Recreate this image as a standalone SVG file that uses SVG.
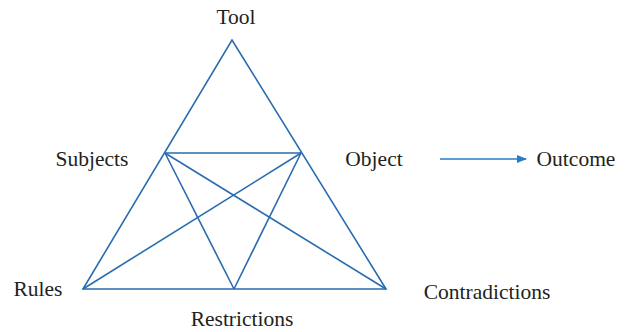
<svg xmlns="http://www.w3.org/2000/svg" width="627" height="332" viewBox="0 0 627 332">
<style>
text{font-family:"Liberation Serif","Times New Roman",serif;font-size:21.5px;fill:#231f20}
.e{stroke:#2a6bb0;stroke-width:1.6;fill:none;stroke-linejoin:miter}
</style>
<defs>
<marker id="ah" markerWidth="10" markerHeight="8" refX="9" refY="4" orient="auto" markerUnits="userSpaceOnUse">
<path d="M0,0 L10,4 L0,8 Z" fill="#2a7bc4"/>
</marker>
</defs>
<g id="connectors">
<path class="e" d="M83,289 L232,40 L386,289 Z"/>
<line class="e" x1="165" y1="153" x2="301" y2="153"/>
<line class="e" x1="165" y1="153" x2="234" y2="289"/>
<line class="e" x1="165" y1="153" x2="386" y2="289"/>
<line class="e" x1="301" y1="153" x2="83" y2="289"/>
<line class="e" x1="301" y1="153" x2="234" y2="289"/>
<line x1="440" y1="159" x2="526" y2="159" stroke="#2a7bc4" stroke-width="1.3" marker-end="url(#ah)"/>
</g>
<g id="tool"><text x="236" y="24" text-anchor="middle">Tool</text></g>
<g id="subjects"><text x="92" y="166" text-anchor="middle">Subjects</text></g>
<g id="object"><text x="374" y="166" text-anchor="middle">Object</text></g>
<g id="outcome"><text x="576" y="166" text-anchor="middle">Outcome</text></g>
<g id="rules"><text x="38" y="296" text-anchor="middle">Rules</text></g>
<g id="restrictions"><text x="242" y="326" text-anchor="middle">Restrictions</text></g>
<g id="contradictions"><text x="487" y="299" text-anchor="middle">Contradictions</text></g>
</svg>
